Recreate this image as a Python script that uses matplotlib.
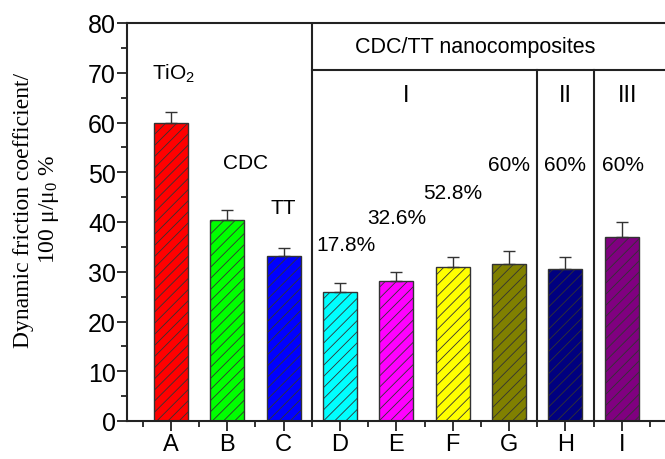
import matplotlib
matplotlib.use("Agg")
import matplotlib.pyplot as plt
from matplotlib.ticker import MultipleLocator

categories = ["A", "B", "C", "D", "E", "F", "G", "H", "I"]
values = [60.0, 40.4, 33.1, 25.9, 28.1, 30.9, 31.6, 30.5, 37.0]
errors = [2.2, 2.1, 1.7, 1.8, 1.8, 2.1, 2.6, 2.5, 3.1]
colors = ["#FF0000", "#00FF00", "#0000FF", "#00FFFF", "#FF00FF",
          "#FFFF00", "#808000", "#000080", "#800080"]
bar_labels = ["TiO$\\mathregular{_2}$", "CDC", "TT", "17.8%", "32.6%", "52.8%", "60%", "60%", "60%"]
label_y = [70.0, 52.0, 43.0, 35.5, 41.0, 46.0, 51.5, 51.5, 51.5]
group_labels = ["I", "II", "III"]

plt.rcParams['font.family'] = ['Liberation Sans', 'DejaVu Sans']
plt.rcParams['hatch.linewidth'] = 0.6

fig = plt.figure(figsize=(6.65, 4.6), dpi=100)
ax = fig.add_axes([127/665, 1 - 422/460, 1 - 127/665 + 0.001, (422 - 24)/460])

x = list(range(1, len(categories) + 1))
ax.bar(x, values, width=0.6, color=colors, edgecolor="#333333", linewidth=1.0,
       hatch="///", zorder=2)
ax.errorbar(x, values, yerr=[[0]*len(errors), errors], fmt="none", ecolor="#333333",
            elinewidth=1.0, capsize=4, capthick=1.0, zorder=3)

ax.set_xlim(0.22, 9.78)
ax.set_ylim(0, 80)
ax.set_xticks(x)
ax.set_xticklabels(categories)
ax.set_xticks([i + 0.5 for i in range(0, 10)], minor=True)
ax.yaxis.set_major_locator(MultipleLocator(10))
ax.yaxis.set_minor_locator(MultipleLocator(5))
ax.tick_params(axis="both", which="major", direction="out", length=7, width=1.3,
               labelsize=18, color="#222222")
ax.tick_params(axis="both", which="minor", direction="out", length=4, width=1.3,
               color="#222222")
ax.tick_params(axis="x", which="major", pad=2, labelsize=17)
ax.tick_params(axis="y", which="major", pad=1)
for s in ["left", "bottom", "top"]:
    ax.spines[s].set_linewidth(1.5)
    ax.spines[s].set_color("#222222")
ax.spines["right"].set_visible(False)

# group separators
ax.axvline(3.5, 0, 1, color="#222222", lw=1.5)
ax.plot([3.5, 9.78], [70.5, 70.5], color="#222222", lw=1.5, clip_on=False)
ax.plot([7.5, 7.5], [0, 70.5], color="#222222", lw=1.5)
ax.plot([8.5, 8.5], [0, 70.5], color="#222222", lw=1.5)

ax.text(6.4, 75.3, "CDC/TT nanocomposites", ha="center", va="center", fontsize=15.5)
for gx, gl in zip([5.18, 8.0, 9.1], group_labels):
    ax.text(gx, 65.5, gl, ha="center", va="center", fontsize=17)

label_x = [1.05, 2.33, 3.0, 4.1, 5.0, 6.0, 7.0, 8.0, 9.02]
for lx, ly, t in zip(label_x, label_y, bar_labels):
    ax.text(lx, ly, t, ha="center", va="center", fontsize=15)

fig.text(37/665, 1 - 210/460, "Dynamic friction coefficient/\n100 μ/μ$\\mathregular{_0}$ %",
         rotation=90, ha="center", va="center", multialignment="center",
         fontsize=17, family="Liberation Serif", linespacing=1.15)

fig.savefig("out.png", dpi=100)
